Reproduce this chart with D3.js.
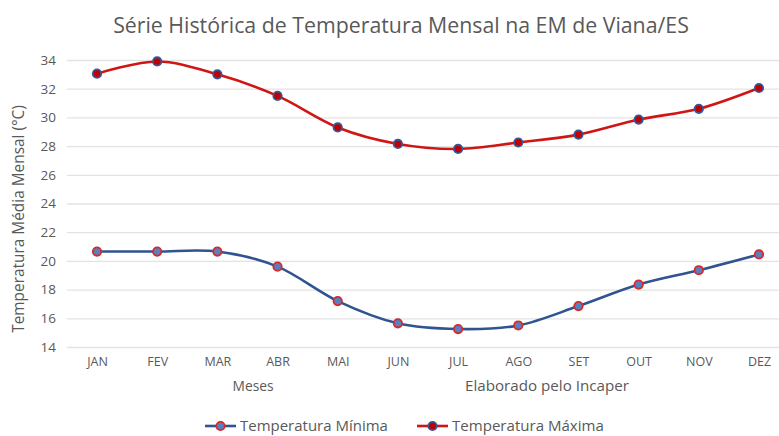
<!DOCTYPE html>
<html>
<head>
<meta charset="utf-8">
<script src="https://cdn.jsdelivr.net/npm/d3@7/dist/d3.min.js"></script>
<style>
  html, body { margin: 0; padding: 0; background: #fff; }
  svg { display: block; }
  text { font-family: "Open Sans", "DejaVu Sans", sans-serif; fill: #595959; }
</style>
</head>
<body>
<svg id="chart" width="779" height="436"></svg>
<script>
// Monthly climatology for the Viana/ES weather station
const months = ["JAN", "FEV", "MAR", "ABR", "MAI", "JUN", "JUL", "AGO", "SET", "OUT", "NOV", "DEZ"];
const tempMin = [20.65, 20.65, 20.65, 19.6, 17.2, 15.65, 15.25, 15.5, 16.85, 18.35, 19.35, 20.45];
const tempMax = [33.05, 33.9, 33.0, 31.5, 29.3, 28.15, 27.8, 28.25, 28.8, 29.85, 30.6, 32.05];
const yTicks = [14, 16, 18, 20, 22, 24, 26, 28, 30, 32, 34];

const title = "Série Histórica de Temperatura Mensal na EM de Viana/ES";
const yTitle = "Temperatura Média Mensal (°C)";
const xTitle = "Meses";
const credit = "Elaborado pelo Incaper";
const legendLabels = ["Temperatura Mínima", "Temperatura Máxima"];

const svg = d3.select("#chart");

const x = d3.scalePoint().domain(months).range([97, 759]);
const y = d3.scaleLinear().domain([14, 34]).range([347, 60]);

// horizontal gridlines
const yAxis = d3.axisLeft(y).tickValues(yTicks).tickSize(-712).tickPadding(11);
const gy = svg.append("g").attr("transform", "translate(67,0)").call(yAxis);
gy.select(".domain").remove();
gy.selectAll(".tick line").attr("stroke", "#e3e3e3").attr("stroke-width", 1.3);
gy.selectAll(".tick text").attr("font-size", 13.5).attr("fill", "#595959")
  .style("font-family", "'Open Sans', sans-serif");

// month labels
const xAxis = d3.axisBottom(x).tickSize(0).tickPadding(0);
const gx = svg.append("g").attr("transform", "translate(0,357)").call(xAxis);
gx.select(".domain").remove();
gx.selectAll(".tick text").attr("font-size", 12.5).attr("fill", "#595959")
  .style("font-family", "'Open Sans', sans-serif");

const line = d3.line()
  .x((d, i) => x(months[i]))
  .y(d => y(d))
  .curve(d3.curveCardinal.tension(0));

const series = [
  { values: tempMin, line: "#2f5490", fill: "#5a7fbf", stroke: "#d42a2a" },
  { values: tempMax, line: "#d01515", fill: "#c00000", stroke: "#34589a" }
];

series.forEach(s => {
  svg.append("path")
    .attr("d", line(s.values))
    .attr("fill", "none")
    .attr("stroke", s.line)
    .attr("stroke-width", 2.6);
  svg.append("g").selectAll("circle")
    .data(s.values)
    .join("circle")
    .attr("cx", (d, i) => x(months[i]))
    .attr("cy", d => y(d))
    .attr("r", 4.2)
    .attr("fill", s.fill)
    .attr("stroke", s.stroke)
    .attr("stroke-width", 1.8);
});

// fit a text element to a target width by adjusting its font size
function fitText(sel, width) {
  const w = sel.node().getComputedTextLength();
  const fs = parseFloat(sel.attr("font-size"));
  sel.attr("font-size", fs * width / w);
}

const t = svg.append("text")
  .attr("x", 401).attr("y", 33)
  .attr("text-anchor", "middle")
  .attr("font-size", 20)
  .text(title);
fitText(t, 576);

const yt = svg.append("text")
  .attr("transform", "translate(24,219) rotate(-90)")
  .attr("text-anchor", "middle")
  .attr("font-size", 14)
  .text(yTitle);
fitText(yt, 228);

const xt = svg.append("text")
  .attr("x", 253).attr("y", 391)
  .attr("text-anchor", "middle")
  .attr("font-size", 14)
  .text(xTitle);
fitText(xt, 41);

const ct = svg.append("text")
  .attr("x", 547).attr("y", 391)
  .attr("text-anchor", "middle")
  .attr("font-size", 14)
  .text(credit);
fitText(ct, 164);

// legend
const legend = [
  { x: 205, label: legendLabels[0], s: series[0], w: 148 },
  { x: 417, label: legendLabels[1], s: series[1], w: 152 }
];
legend.forEach(l => {
  const g = svg.append("g").attr("transform", `translate(${l.x},426)`);
  g.append("line").attr("x1", 0).attr("x2", 31).attr("y1", 0).attr("y2", 0)
    .attr("stroke", l.s.line).attr("stroke-width", 2.6);
  g.append("circle").attr("cx", 15.5).attr("cy", 0).attr("r", 4.2)
    .attr("fill", l.s.fill).attr("stroke", l.s.stroke).attr("stroke-width", 1.8);
  const lt = g.append("text").attr("x", 35).attr("y", 5)
    .attr("font-size", 15).text(l.label);
  fitText(lt, l.w);
});
</script>
</body>
</html>
